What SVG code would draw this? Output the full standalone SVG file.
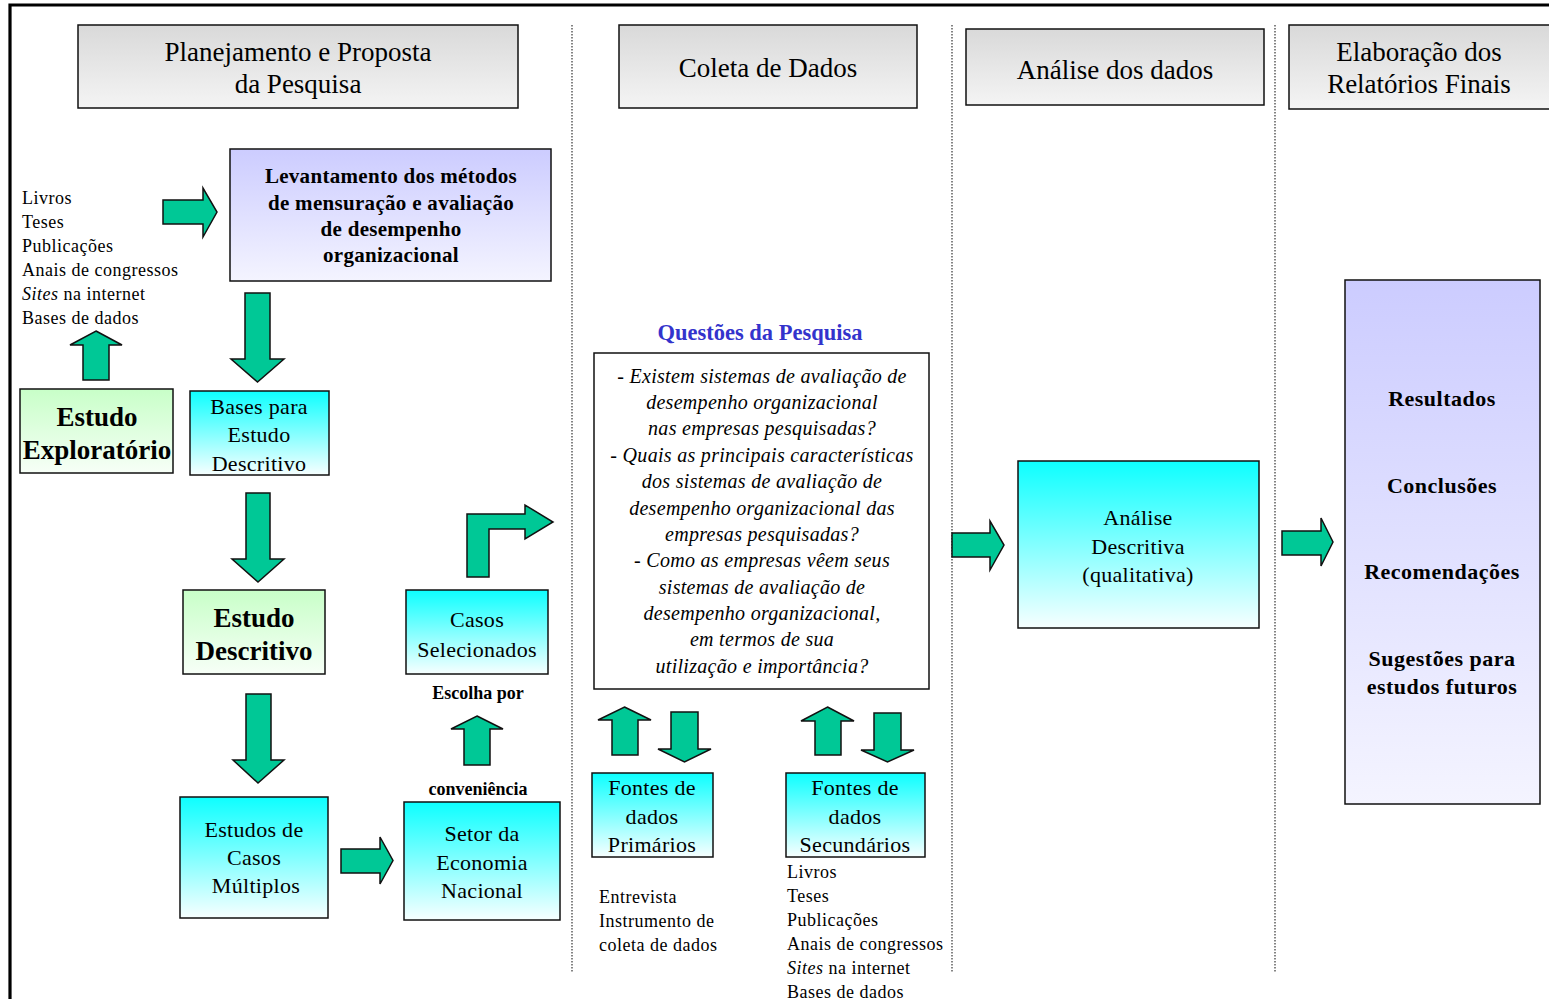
<svg xmlns="http://www.w3.org/2000/svg" width="1549" height="999" viewBox="0 0 1549 999">
  <defs>
    <linearGradient id="gGray" x1="0" y1="0" x2="0" y2="1">
      <stop offset="0" stop-color="#d9d9d9"/>
      <stop offset="1" stop-color="#f4f4f4"/>
    </linearGradient>
    <linearGradient id="gCyan" x1="0" y1="0" x2="0" y2="1">
      <stop offset="0" stop-color="#0dffff"/>
      <stop offset="1" stop-color="#f7ffff"/>
    </linearGradient>
    <linearGradient id="gGreen" x1="0" y1="0" x2="0" y2="1">
      <stop offset="0" stop-color="#c8ffc8"/>
      <stop offset="1" stop-color="#f7fff7"/>
    </linearGradient>
    <linearGradient id="gViolet" x1="0" y1="0" x2="0" y2="1">
      <stop offset="0" stop-color="#ccccff"/>
      <stop offset="1" stop-color="#f4f4ff"/>
    </linearGradient>
  </defs>
  <style>
    text { font-family: "Liberation Serif", "Times New Roman", serif; fill: #000; }
    .box { stroke: #111; stroke-width: 1.5; }
    .gray { fill: url(#gGray); }
    .cyan { fill: url(#gCyan); }
    .green { fill: url(#gGreen); }
    .violet { fill: url(#gViolet); }
    .plain { fill: #fff; }
    .arr { fill: #00c896; stroke: #111; stroke-width: 1.5; stroke-linejoin: miter; }
    .sep { stroke: #333; stroke-width: 1.2; stroke-dasharray: 1.5 1.5; fill: none; }
    .hdr { font-size: 27px; text-anchor: middle; }
    .mid { text-anchor: middle; }
    .reg22 { font-size: 22px; text-anchor: middle; letter-spacing: 0.3px; }
    .big { font-size: 27px; font-weight: bold; text-anchor: middle; }
    .lst { font-size: 18px; letter-spacing: 0.5px; }
    .bold21 { font-size: 21px; font-weight: bold; text-anchor: middle; letter-spacing: 0.3px; }
    .bold22 { font-size: 22px; font-weight: bold; text-anchor: middle; letter-spacing: 0.5px; }
    .q { font-size: 20px; font-style: italic; text-anchor: middle; letter-spacing: 0.3px; }
    .title { font-size: 22.5px; font-weight: bold; text-anchor: middle; fill: #3333cc; }
  </style>

  <!-- page frame (top and left edges) -->
  <path d="M10,999 V5 H1549" fill="none" stroke="#000" stroke-width="3.2"/>

  <!-- column separators -->
  <g id="separators">
    <line class="sep" x1="572" y1="25" x2="572" y2="973"/>
    <line class="sep" x1="952" y1="25" x2="952" y2="973"/>
    <line class="sep" x1="1275" y1="25" x2="1275" y2="973"/>
  </g>

  <!-- column headers -->
  <g id="hdr-planejamento">
    <rect class="box gray" x="78" y="25" width="440" height="83"/>
    <text class="hdr" x="298" y="61">Planejamento e Proposta</text>
    <text class="hdr" x="298" y="93">da Pesquisa</text>
  </g>
  <g id="hdr-coleta">
    <rect class="box gray" x="619" y="25" width="298" height="83"/>
    <text class="hdr" x="768" y="77">Coleta de Dados</text>
  </g>
  <g id="hdr-analise">
    <rect class="box gray" x="966" y="29" width="298" height="76"/>
    <text class="hdr" x="1115" y="79">Análise dos dados</text>
  </g>
  <g id="hdr-elaboracao">
    <rect class="box gray" x="1289" y="25" width="280" height="84"/>
    <text class="hdr" x="1419" y="61">Elaboração dos</text>
    <text class="hdr" x="1419" y="93">Relatórios Finais</text>
  </g>

  <!-- column 1 -->
  <g id="sources-1">
    <text class="lst" x="22" y="204">Livros</text>
    <text class="lst" x="22" y="228">Teses</text>
    <text class="lst" x="22" y="252">Publicações</text>
    <text class="lst" x="22" y="276">Anais de congressos</text>
    <text class="lst" x="22" y="300"><tspan font-style="italic">Sites</tspan> na internet</text>
    <text class="lst" x="22" y="324">Bases de dados</text>
  </g>

  <g id="levantamento">
    <rect class="box violet" x="230" y="149" width="321" height="132"/>
    <text class="bold21" x="391" y="183">Levantamento dos  métodos</text>
    <text class="bold21" x="391" y="210">de  mensuração e avaliação</text>
    <text class="bold21" x="391" y="236">de desempenho</text>
    <text class="bold21" x="391" y="262">organizacional</text>
  </g>

  <g id="estudo-exploratorio">
    <rect class="box green" x="20" y="389" width="153" height="84"/>
    <text class="big" x="97" y="426">Estudo</text>
    <text class="big" x="97" y="459">Exploratório</text>
  </g>

  <g id="bases-estudo">
    <rect class="box cyan" x="190" y="391" width="139" height="84"/>
    <text class="reg22" x="259" y="414">Bases para</text>
    <text class="reg22" x="259" y="442">Estudo</text>
    <text class="reg22" x="259" y="471">Descritivo</text>
  </g>

  <g id="estudo-descritivo">
    <rect class="box green" x="183" y="590" width="142" height="84"/>
    <text class="big" x="254" y="627">Estudo</text>
    <text class="big" x="254" y="660">Descritivo</text>
  </g>

  <g id="casos-selecionados">
    <rect class="box cyan" x="406" y="590" width="142" height="84"/>
    <text class="reg22" x="477" y="627">Casos</text>
    <text class="reg22" x="477" y="657">Selecionados</text>
  </g>

  <g id="escolha-label">
    <text class="mid" x="478" y="699" font-size="18" font-weight="bold">Escolha por</text>
    <text class="mid" x="478" y="795" font-size="18" font-weight="bold">conveniência</text>
  </g>

  <g id="estudos-casos">
    <rect class="box cyan" x="180" y="797" width="148" height="121"/>
    <text class="reg22" x="254" y="837">Estudos de</text>
    <text class="reg22" x="254" y="865">Casos</text>
    <text class="reg22" x="256" y="893">Múltiplos</text>
  </g>

  <g id="setor-economia">
    <rect class="box cyan" x="404" y="802" width="156" height="118"/>
    <text class="reg22" x="482" y="841">Setor da</text>
    <text class="reg22" x="482" y="870">Economia</text>
    <text class="reg22" x="482" y="898">Nacional</text>
  </g>

  <!-- column 2 -->
  <g id="questoes">
    <text class="title" x="760" y="340">Questões da Pesquisa</text>
    <rect class="box plain" x="594" y="353" width="335" height="336"/>
    <text class="q" x="762" y="383">- Existem sistemas de avaliação de</text>
    <text class="q" x="762" y="409">desempenho organizacional</text>
    <text class="q" x="762" y="435">nas empresas pesquisadas?</text>
    <text class="q" x="762" y="462">- Quais as principais características</text>
    <text class="q" x="762" y="488">dos sistemas de avaliação de</text>
    <text class="q" x="762" y="515">desempenho organizacional das</text>
    <text class="q" x="762" y="541">empresas pesquisadas?</text>
    <text class="q" x="762" y="567">- Como as empresas vêem seus</text>
    <text class="q" x="762" y="594">sistemas de avaliação de</text>
    <text class="q" x="762" y="620">desempenho organizacional,</text>
    <text class="q" x="762" y="646">em termos de sua</text>
    <text class="q" x="762" y="673">utilização e importância?</text>
  </g>

  <g id="fontes-primarios">
    <rect class="box cyan" x="592" y="773" width="121" height="84"/>
    <text class="reg22" x="652" y="795">Fontes de</text>
    <text class="reg22" x="652" y="824">dados</text>
    <text class="reg22" x="652" y="852">Primários</text>
  </g>
  <g id="primarios-itens">
    <text class="lst" x="599" y="903">Entrevista</text>
    <text class="lst" x="599" y="927">Instrumento de</text>
    <text class="lst" x="599" y="951">coleta de dados</text>
  </g>

  <g id="fontes-secundarios">
    <rect class="box cyan" x="786" y="773" width="139" height="84"/>
    <text class="reg22" x="855" y="795">Fontes de</text>
    <text class="reg22" x="855" y="824">dados</text>
    <text class="reg22" x="855" y="852">Secundários</text>
  </g>
  <g id="secundarios-itens">
    <text class="lst" x="787" y="878">Livros</text>
    <text class="lst" x="787" y="902">Teses</text>
    <text class="lst" x="787" y="926">Publicações</text>
    <text class="lst" x="787" y="950">Anais de congressos</text>
    <text class="lst" x="787" y="974"><tspan font-style="italic">Sites</tspan> na internet</text>
    <text class="lst" x="787" y="998">Bases de dados</text>
  </g>

  <!-- column 3 -->
  <g id="analise-descritiva">
    <rect class="box cyan" x="1018" y="461" width="241" height="167"/>
    <text class="reg22" x="1138" y="525">Análise</text>
    <text class="reg22" x="1138" y="554">Descritiva</text>
    <text class="reg22" x="1138" y="582">(qualitativa)</text>
  </g>

  <!-- column 4 -->
  <g id="resultados">
    <rect class="box violet" x="1345" y="280" width="195" height="524"/>
    <text class="bold22" x="1442" y="406">Resultados</text>
    <text class="bold22" x="1442" y="493">Conclusões</text>
    <text class="bold22" x="1442" y="579">Recomendações</text>
    <text class="bold22" x="1442" y="666">Sugestões  para</text>
    <text class="bold22" x="1442" y="694">estudos futuros</text>
  </g>

  <!-- block arrows -->
  <g id="connectors">
    <polygon class="arr" points="163,200 203,200 203,188 217,212 203,237 203,224 163,224"/>
    <polygon class="arr" points="96,331 122,345 109,345 109,380 83,380 83,345 70,345"/>
    <polygon class="arr" points="245,293 270,293 270,359 284,359 257.5,382 231,359 245,359"/>
    <polygon class="arr" points="246,493 270,493 270,559 284,559 258,582 232,559 246,559"/>
    <polygon class="arr" points="246,694 271,694 271,760 284,760 258,783 233,760 246,760"/>
    <polygon class="arr" points="341,849 380,849 380,837 393,860.5 380,884 380,873 341,873"/>
    <polygon class="arr" points="477,716 503,729 490,729 490,765 464,765 464,729 451,729"/>
    <polygon class="arr" points="467,577 467,514 525,514 525,505 553,522 525,539 525,529 489,529 489,577"/>
    <polygon class="arr" points="624.5,707 651,720 638,720 638,755 612,755 612,720 598,720"/>
    <polygon class="arr" points="671,712 698,712 698,749 711,749 684.5,762 658,749 671,749"/>
    <polygon class="arr" points="827.5,707 854,721 841,721 841,755 815,755 815,721 801,721"/>
    <polygon class="arr" points="874,713 901,713 901,750 914,750 887.5,762 861,750 874,750"/>
    <polygon class="arr" points="952,533 990,533 990,521 1004,545 990,570 990,557 952,557"/>
    <polygon class="arr" points="1282,531 1321,531 1321,518 1333,542 1321,566 1321,555 1282,555"/>
  </g>
</svg>
